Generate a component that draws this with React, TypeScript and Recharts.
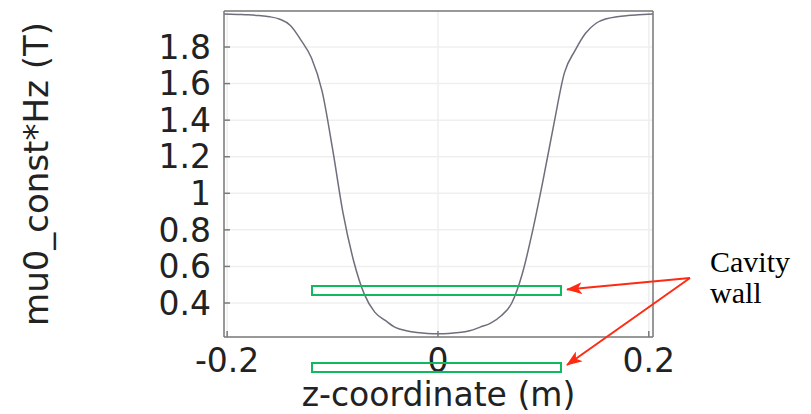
import React from "react";
import { LineChart, Line, XAxis, YAxis, CartesianGrid } from "recharts";

const zCoords = [
  -0.204, -0.19, -0.18, -0.17, -0.16, -0.15, -0.14, -0.13, -0.12, -0.11, -0.1,
  -0.09, -0.08, -0.07, -0.06, -0.05, -0.04, -0.03, -0.02, -0.01, 0,
  0.01, 0.02, 0.03, 0.04, 0.05, 0.06, 0.07, 0.08, 0.09, 0.1,
  0.11, 0.12, 0.13, 0.14, 0.15, 0.16, 0.17, 0.18, 0.19, 0.205,
];
const hzValues = [
  1.981, 1.978, 1.976, 1.972, 1.966, 1.952, 1.918, 1.838, 1.74, 1.56, 1.243,
  0.89, 0.63, 0.45, 0.35, 0.305, 0.265, 0.248, 0.238, 0.233, 0.232,
  0.233, 0.238, 0.248, 0.268, 0.29, 0.33, 0.4, 0.56, 0.8, 1.08,
  1.38, 1.66, 1.78, 1.875, 1.93, 1.955, 1.966, 1.972, 1.976, 1.981,
];
const xTicks = [-0.2, 0, 0.2];
const yTicks = [0.4, 0.6, 0.8, 1, 1.2, 1.4, 1.6, 1.8];
const xLabel = "z-coordinate (m)";
const yLabel = "mu0_const*Hz (T)";
const noteLines = ["Cavity", "wall"];

const data = zCoords.map((z, i) => ({ z, hz: hzValues[i] }));

const FONT = "'DejaVu Sans', sans-serif";
const AXIS = "#7a7a7a";

const fmt = (v: number) => (v === 0 ? "0" : String(v));

export default function App() {
  return (
    <div style={{ position: "absolute", left: 0, top: 0, width: 811, height: 414, background: "#fff" }}>
      <LineChart
        width={811}
        height={414}
        data={data}
        margin={{ top: 1, right: 148, left: 0, bottom: 0 }}
      >
        <CartesianGrid xAxisId="b" yAxisId="l" stroke="#efefef" strokeWidth={1.5} />
        <XAxis
          xAxisId="b"
          dataKey="z"
          type="number"
          domain={[-0.203, 0.204]}
          ticks={xTicks}
          interval={0}
          allowDataOverflow
          height={77}
          tickFormatter={fmt}
          tickSize={-6}
          tickMargin={18}
          stroke={AXIS}
          strokeWidth={1.5}
          tick={{ fill: "#222", fontSize: 33, fontFamily: FONT }}
          label={{
            value: xLabel,
            position: "insideBottom",
            offset: 8,
            fill: "#222",
            fontSize: 33,
            fontFamily: FONT,
          }}
        />
        <XAxis
          xAxisId="t"
          dataKey="z"
          type="number"
          orientation="top"
          domain={[-0.203, 0.204]}
          ticks={xTicks}
          interval={0}
          allowDataOverflow
          height={10}
          tick={false}
          tickSize={-6}
          stroke={AXIS}
          strokeWidth={1.5}
        />
        <YAxis
          yAxisId="l"
          type="number"
          domain={[0.214, 1.997]}
          ticks={yTicks}
          interval={0}
          allowDataOverflow
          width={224}
          tickFormatter={fmt}
          tickSize={-6}
          tickMargin={19}
          stroke={AXIS}
          strokeWidth={1.5}
          tick={{ fill: "#222", fontSize: 33, fontFamily: FONT }}
          label={{
            content: (props: any) => {
              const vb = props.viewBox || {};
              const cx = (vb.x || 0) + 48;
              const cy = (vb.y || 0) + (vb.height || 0) / 2;
              return (
                <text
                  x={cx}
                  y={cy}
                  transform={`rotate(-90 ${cx} ${cy})`}
                  textAnchor="middle"
                  fill="#222"
                  fontSize={34}
                  fontFamily={FONT}
                >
                  {yLabel}
                </text>
              );
            },
          }}
        />
        <YAxis
          yAxisId="r"
          orientation="right"
          type="number"
          domain={[0.214, 1.997]}
          ticks={yTicks}
          interval={0}
          allowDataOverflow
          width={10}
          tick={false}
          tickSize={-6}
          stroke={AXIS}
          strokeWidth={1.5}
        />
        <Line
          xAxisId="b"
          yAxisId="l"
          type="monotone"
          dataKey="hz"
          stroke="#6e6e7c"
          strokeWidth={1.5}
          dot={false}
          isAnimationActive={false}
        />
      </LineChart>
      <svg
        width={811}
        height={414}
        style={{ position: "absolute", left: 0, top: 0, pointerEvents: "none" }}
      >
        <defs>
          <marker id="ah" markerWidth="16" markerHeight="12" refX="15" refY="6" orient="auto" markerUnits="userSpaceOnUse">
            <path d="M0,0 L16,6 L0,12 L4,6 Z" fill="#ff2a12" />
          </marker>
        </defs>
        <rect x={312} y={286} width={249} height={9} fill="none" stroke="#10b860" strokeWidth={2} />
        <rect x={312} y={363} width={249} height={9} fill="none" stroke="#10b860" strokeWidth={2} />
        <line x1={690} y1={278} x2={567} y2={289.5} stroke="#ff2a12" strokeWidth={2} markerEnd="url(#ah)" />
        <line x1={690} y1={278} x2={567} y2={365} stroke="#ff2a12" strokeWidth={2} markerEnd="url(#ah)" />
        <text fontFamily="'Liberation Serif', serif" fontSize={30} fill="#000">
          <tspan x={710} y={272}>{noteLines[0]}</tspan>
          <tspan x={710} y={303}>{noteLines[1]}</tspan>
        </text>
      </svg>
    </div>
  );
}
